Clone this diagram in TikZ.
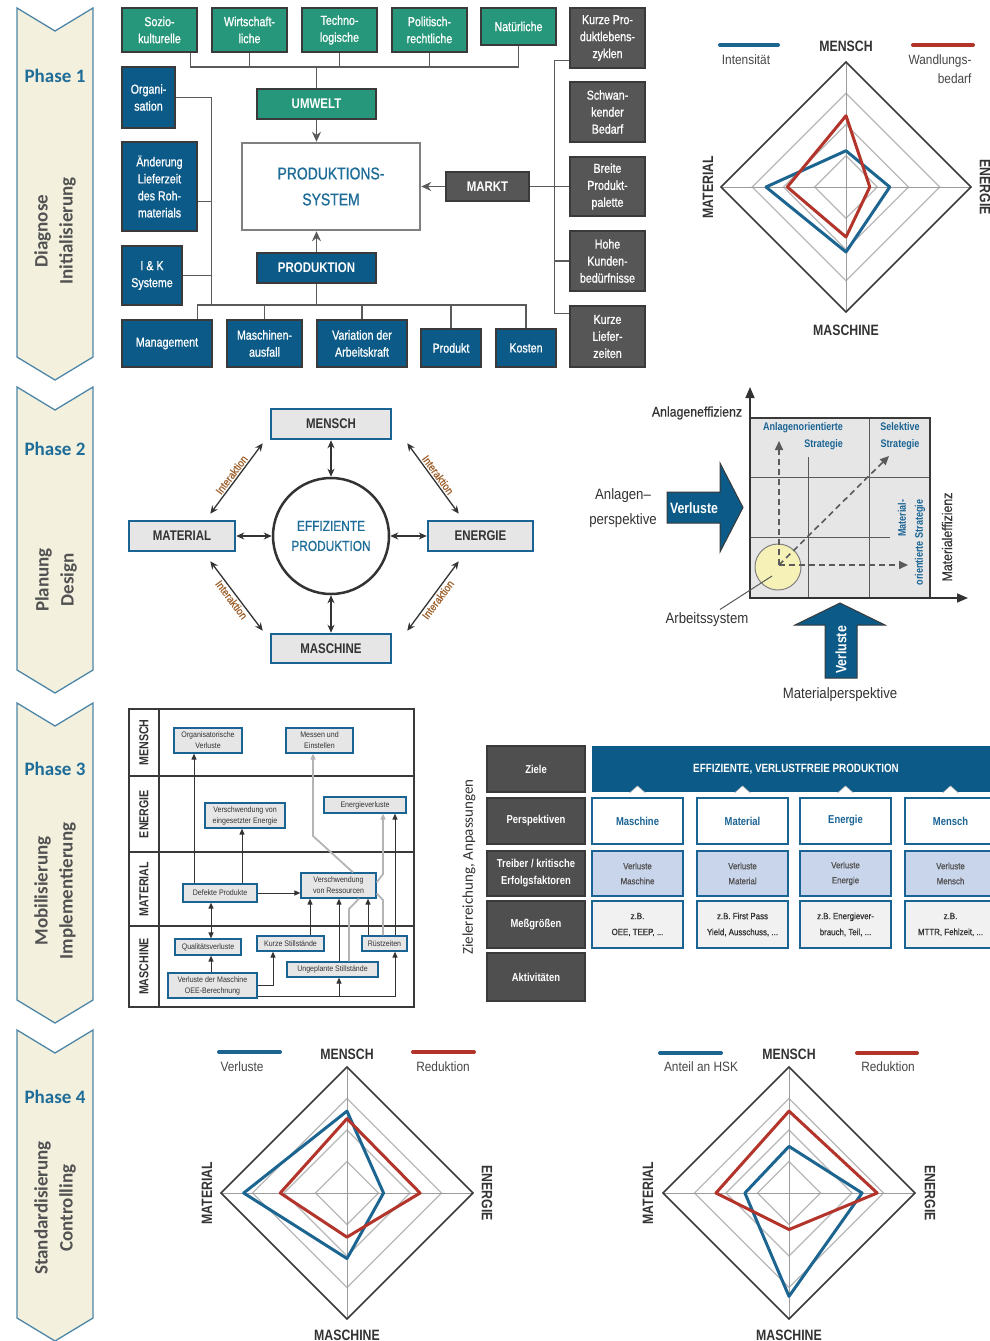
\documentclass[tikz,border=0pt]{standalone}
\usepackage{fontspec}
\setmainfont{Liberation Sans}
\newfontfamily\cond{Liberation Sans}[FakeStretch=0.82]
\newfontfamily\condm{Liberation Sans}[FakeStretch=0.82,FakeBold=0.9]
\newfontfamily\semi{Liberation Sans}[FakeStretch=0.88]
\newfontfamily\semim{Liberation Sans}[FakeStretch=0.88,FakeBold=0.7]
\newfontfamily\calib{Carlito}
\usetikzlibrary{arrows.meta,calc}

\definecolor{tealC}{HTML}{26977A}
\definecolor{blueC}{HTML}{0B5A87}
\definecolor{grayC}{HTML}{565656}
\definecolor{lineC}{HTML}{3A3A3A}
\definecolor{connC}{HTML}{5A5A5A}
\definecolor{phaseC}{HTML}{1E6C98}
\definecolor{chevF}{HTML}{F3F0DE}
\definecolor{chevD}{HTML}{4E86A8}
\definecolor{txtC}{HTML}{333333}
\definecolor{radB}{HTML}{1D6591}
\definecolor{radR}{HTML}{B3342A}
\definecolor{ringC}{HTML}{B8B8B8}
\definecolor{boxF}{HTML}{E6E6E6}
\definecolor{frameB}{HTML}{1A6494}
\definecolor{interC}{HTML}{A0622D}
\definecolor{lblF}{HTML}{4F4F4F}
\definecolor{lightB}{HTML}{C9D5EB}
\definecolor{paleF}{HTML}{F1F1F1}
\definecolor{sysY}{HTML}{F6F1B6}
\definecolor{grayL}{HTML}{B4B4B4}

\newcommand\fsz[2]{\fontsize{#1}{#2}\selectfont}
% box from corner (x1,y1) to corner (x2,y2)
\newcommand\bxnode[7]{%
  \pgfmathsetmacro\bxW{#5-#3}\pgfmathsetmacro\bxH{#6-#4}%
  \pgfmathsetmacro\bxX{(#3+#5)/2}\pgfmathsetmacro\bxY{(#4+#6)/2}%
  \node[#1,minimum width=\bxW pt,minimum height=\bxH pt] (#2) at (\bxX,\bxY) {#7};}
% phase chevron: top corner y, bottom corner y
\newcommand\chevron[2]{\filldraw[fill=chevF,draw=chevD,line width=1.3pt]
  (17,#1) -- (55,#1+23) -- (93,#1) -- (93,#2) -- (55,#2+23) -- (17,#2) -- cycle;}
% radar grid around the current origin
\def\rr{125}
\newcommand\radarGrid{%
  \foreach \f in {0.25,0.5,0.75}{\draw[ringC,line width=1.2pt] (0,-\rr*\f) -- (\rr*\f,0) -- (0,\rr*\f) -- (-\rr*\f,0) -- cycle;}
  \draw[ringC!85!black,line width=1pt] (0,-\rr) -- (0,\rr) (-\rr,0) -- (\rr,0);
  \draw[lineC,line width=1.6pt] (0,-\rr) -- (\rr,0) -- (0,\rr) -- (-\rr,0) -- cycle;}
\newcommand\radarPoly[5]{\draw[#1,line width=3pt,line join=round] (0,-\rr*#2) -- (\rr*#3,0) -- (0,\rr*#4) -- (-\rr*#5,0) -- cycle;}

\tikzset{
  boxbase/.style={draw=lineC,line width=1.5pt,inner sep=0pt,align=center,text=white,font=\condm\fsz{13}{17}},
  gbox/.style={boxbase,fill=tealC},
  bbox/.style={boxbase,fill=blueC},
  dbox/.style={boxbase,fill=grayC},
  headbox/.style={font=\cond\bfseries\fsz{14}{17}},
  sysbox/.style={draw=gray,line width=2.5pt,fill=white,inner sep=0pt,align=center,text=phaseC,font=\condm\fsz{17}{26}},
  conn/.style={draw=connC,line width=1.3pt},
  arr/.style={conn,-{Stealth[length=10pt,width=9pt]}},
  phase/.style={text=phaseC,font=\calib\bfseries\fsz{19}{22}},
  stage/.style={text=txtC!85,rotate=90,align=center,font=\calib\bfseries\fsz{19}{25}},
  ebox/.style={draw=frameB,line width=2.5pt,fill=boxF,inner sep=0pt,text=txtC,font=\cond\bfseries\fsz{14}{17}},
  darr/.style={draw=txtC,line width=1.6pt,{Stealth[length=8pt,width=7pt]}-{Stealth[length=8pt,width=7pt]}},
  inter/.style={text=interC,font=\semim\fsz{11}{12},inner sep=1.5pt},
  rlab/.style={text=txtC,font=\cond\bfseries\fsz{15}{17}},
  leg/.style={text=txtC!90,font=\semi\fsz{13.5}{19}},
  legline/.style={line width=4pt,line cap=round},
  mtxt/.style={text=txtC,align=center,font=\semi\fsz{15}{25}},
  strat/.style={text=frameB,font=\cond\bfseries\fsz{11}{17}},
  dsh/.style={draw=connC,line width=1.6pt,dashed,dash pattern=on 6pt off 4pt,-{Triangle[length=9pt,width=8pt]}},
  axis/.style={draw=txtC,line width=1.6pt,-{Triangle[length=11pt,width=9pt]}},
  vtxt/.style={text=white,font=\cond\bfseries\fsz{15}{17}},
  sbox/.style={draw=frameB,line width=1.2pt,fill=boxF,inner sep=0pt,align=center,text=txtC,font=\semi\fsz{8}{11}},
  sarr/.style={draw=txtC,line width=1pt,-{Triangle[length=6pt,width=5pt]}},
  sarr2/.style={draw=txtC,line width=1pt,{Triangle[length=6pt,width=5pt]}-{Triangle[length=6pt,width=5pt]}},
  gline/.style={draw=grayL,line width=1.8pt},
  garr/.style={gline,-{Triangle[length=6pt,width=5pt]}},
  tlab/.style={rotate=90,text=txtC,font=\cond\bfseries\fsz{13}{15}},
  lbox/.style={draw=lineC,line width=1.5pt,fill=lblF,inner sep=0pt,align=center,text=white,font=\cond\bfseries\fsz{11.5}{17}},
  banner/.style={fill=blueC,inner sep=0pt,text=white,font=\cond\bfseries\fsz{12}{14}},
  pbox/.style={draw=frameB,line width=2.5pt,fill=white,inner sep=0pt,align=center,text=frameB,font=\cond\bfseries\fsz{11.5}{14}},
  tbox/.style={draw=frameB,line width=2.5pt,fill=lightB,inner sep=0pt,align=center,text=txtC!85,font=\semim\fsz{9}{15}},
  mbox/.style={draw=frameB,line width=2.5pt,fill=paleF,inner sep=0pt,align=center,text=txtC,font=\semim\fsz{9}{16}},
}

\begin{document}
\begin{tikzpicture}[x=1pt,y=-1pt]
\useasboundingbox (0,0) rectangle (990,1341);
\fill[white] (0,0) rectangle (990,1341);

% ---------------- phase chevrons ----------------
\chevron{8}{357}
\chevron{387}{670}
\chevron{703}{1000}
\chevron{1030}{1318}
\node[phase] (ph1) at (55,76) {Phase 1};
\node[phase] (ph2) at (55,449) {Phase 2};
\node[phase] (ph3) at (55,769) {Phase 3};
\node[phase] (ph4) at (55,1097) {Phase 4};
\node[stage] (st1) at (55,231) {Diagnose\\Initialisierung};
\node[stage] (st2) at (56,580) {Planung\\Design};
\node[stage] (st3) at (55,891) {Mobilisierung\\Implementierung};
\node[stage] (st4) at (55,1208) {Standardisierung\\Controlling};

% ---------------- phase 1: system and environment ----------------
\bxnode{gbox}{soz}{122}{8}{197}{52}{Sozio-\\kulturelle}
\bxnode{gbox}{wir}{212}{8}{287}{52}{Wirtschaft-\\liche}
\bxnode{gbox}{tec}{302}{8}{377}{52}{Techno-\\logische}
\bxnode{gbox}{pol}{392}{8}{467}{52}{Politisch-\\rechtliche}
\bxnode{gbox}{nat}{481}{8}{556}{45}{Natürliche}
\bxnode{gbox,headbox}{umw}{257}{89}{376}{119}{UMWELT}

\bxnode{dbox}{kpz}{570}{8}{645}{68}{Kurze Pro-\\duktlebens-\\zyklen}
\bxnode{dbox}{sch}{570}{82}{645}{142}{Schwan-\\kender\\Bedarf}
\bxnode{dbox}{brp}{570}{157}{645}{216}{Breite\\Produkt-\\palette}
\bxnode{dbox}{hkb}{570}{231}{645}{291}{Hohe\\Kunden-\\bedürfnisse}
\bxnode{dbox}{klz}{570}{306}{645}{367}{Kurze\\Liefer-\\zeiten}
\bxnode{dbox,headbox}{markt}{446}{172}{529}{201}{MARKT}

\bxnode{bbox}{org}{122}{67}{175}{128}{Organi-\\sation}
\bxnode{bbox}{aen}{122}{142}{197}{231}{Änderung\\Lieferzeit\\des Roh-\\materials}
\bxnode{bbox}{iuk}{122}{246}{182}{305}{I \& K\\Systeme}
\bxnode{bbox}{man}{122}{320}{212}{367}{Management}
\bxnode{bbox}{mas}{227}{320}{302}{367}{Maschinen-\\ausfall}
\bxnode{bbox}{var}{317}{320}{407}{367}{Variation der\\Arbeitskraft}
\bxnode{bbox}{pro}{421}{329}{481}{367}{Produkt}
\bxnode{bbox}{kos}{496}{329}{556}{367}{Kosten}
\bxnode{bbox,headbox}{prodn}{257}{253}{376}{283}{PRODUKTION}

\bxnode{sysbox}{psys}{242}{143}{420}{230}{PRODUKTIONS-\\SYSTEM}

\coordinate (tbus) at (316.5,67);
\draw[conn] ([xshift=-7pt]soz.south east) |- (tbus);
\draw[conn] (nat.south) |- (tbus);
\draw[conn] (wir.south) -- (wir.south |- tbus);
\draw[conn] (tec.south) -- (tec.south |- tbus);
\draw[conn] (pol.south) -- (pol.south |- tbus);
\draw[conn] (tbus) -- (umw.north);
\draw[arr] (umw.south) -- (umw.south |- psys.north);
\draw[arr] (prodn.north) -- (prodn.north |- psys.south);
\draw[arr] (markt.west) -- (markt.west -| psys.east);

\coordinate (bbus) at (316.5,305);
\draw[conn] (prodn.south) -- (bbus);
\draw[conn] ([xshift=-15pt]man.north east) |- (kos.north |- bbus) -- (kos.north);
\draw[conn] (mas.north) -- (mas.north |- bbus);
\draw[conn] (var.north) -- (var.north |- bbus);
\draw[conn] (pro.north) -- (pro.north |- bbus);
\draw[conn] (org.east) -- ++(36,0) |- (bbus);
\draw[conn] ([yshift=-15pt]aen.east) -- ++(14,0);
\draw[conn] (iuk.east) -- ++(29,0);

\draw[conn] ([yshift=8pt]kpz.south west) -- ++(-15,0) |- ([yshift=-8pt]klz.north west);
\draw[conn] (markt.east) -- (brp.west);
\draw[conn] (hkb.west) -- ++(-15,0);

% ---------------- phase 1: radar ----------------
\begin{scope}[shift={(846,187)}]
  \radarGrid
  \radarPoly{radB}{0.29}{0.35}{0.52}{0.64}
  \radarPoly{radR}{0.57}{0.19}{0.40}{0.47}
\end{scope}
\node[rlab] (r1n) at (846,46) {MENSCH};
\node[rlab] (r1s) at (846,330) {MASCHINE};
\node[rlab,rotate=90] (r1w) at (708,187) {MATERIAL};
\node[rlab,rotate=-90] (r1e) at (985,187) {ENERGIE};
\draw[legline,radB] (720,45) -- (778,45);
\draw[legline,radR] (913,45) -- (973,45);
\node[leg] (r1lb) at (746,60) {Intensität};
\node[leg,align=right,anchor=north east] (r1lr) at (975,51) {Wandlungs-\\bedarf};

% ---------------- phase 2: efficient production ----------------
\bxnode{ebox}{mensch2}{271}{409}{391}{439}{MENSCH}
\bxnode{ebox}{mat2}{129}{521}{235}{551}{MATERIAL}
\bxnode{ebox}{ene2}{428}{521}{533}{551}{ENERGIE}
\bxnode{ebox}{masch2}{271}{634}{391}{663}{MASCHINE}
\node[circle,draw=txtC,line width=2.5pt,minimum size=116pt,inner sep=0pt,align=center,
      text=phaseC,font=\condm\fsz{14.5}{20}] (eff) at (331,536) {EFFIZIENTE\\PRODUKTION};
\draw[darr] (mensch2) -- (eff);
\draw[darr] (masch2) -- (eff);
\draw[darr] (mat2) -- (eff);
\draw[darr] (ene2) -- (eff);
\draw[darr,line width=1.3pt] ([shift={(-7,3)}]mensch2.south west) -- node[inter,sloped,above] (ia1) {Interaktion} ([shift={(-26,-6)}]mat2.north east);
\draw[darr,line width=1.3pt] ([shift={(15,3)}]mensch2.south east) -- node[inter,sloped,above] (ia2) {Interaktion} ([shift={(32,-6)}]ene2.north west);
\draw[darr,line width=1.3pt] ([shift={(-26,9)}]mat2.south east) -- node[inter,sloped,below] (ia3) {Interaktion} ([shift={(-7,-2)}]masch2.north west);
\draw[darr,line width=1.3pt] ([shift={(32,9)}]ene2.south west) -- node[inter,sloped,below] (ia4) {Interaktion} ([shift={(15,-2)}]masch2.north east);

% ---------------- phase 2: loss perspectives ----------------
\fill[boxF] (750,418) rectangle (930,598);
\draw[connC,line width=1pt] (750,477) -- (930,477) (869,418) -- (869,598) (808,457) -- (808,598) (750,537) -- (890,537);
\draw[lineC,line width=1.6pt] (750,418) rectangle (930,598);
\coordinate (orig) at (750,598);
\coordinate (yax) at (750,387);
\coordinate (xax) at (968,598);
\draw[axis] (orig) -- (yax);
\draw[axis] (orig) -- (xax);
\node[circle,draw=gray,line width=1pt,fill=sysY,minimum size=46pt,inner sep=0pt] (asys) at (778,567) {};
\coordinate (dst) at (779,565);
\coordinate (dup) at (779,441);
\coordinate (drt) at (908,565);
\coordinate (ddg) at (889,456);
\draw[dsh] (dst) -- (dup);
\draw[dsh] (dst) -- (drt);
\draw[dsh] (dst) -- (ddg);
\node[text=txtC,font=\semim\fsz{14}{16}] (aeff) at (697,413) {Anlageneffizienz};
\node[text=txtC,font=\semim\fsz{14}{16},rotate=90] (meff) at (947,537) {Materialeffizienz};
\node[strat,align=right] (s1) at (803,436.5) {Anlagenorientierte\\Strategie};
\node[strat,align=center] (s2) at (900,436.5) {Selektive\\Strategie};
\node[strat,align=right,rotate=90] (s3) at (911.5,542.5) {Material-\\orientierte Strategie};

\filldraw[fill=blueC,draw=lineC,line width=1pt] (667,492) -- (720,492) -- (720,463) -- (743,507.5) -- (720,552) -- (720,523) -- (667,523) -- cycle;
\node[vtxt] (v1) at (694,508) {Verluste};
\filldraw[fill=blueC,draw=lineC,line width=1pt] (825,678) -- (825,625) -- (795,625) -- (840,603) -- (885,625) -- (857,625) -- (857,678) -- cycle;
\node[vtxt,rotate=90] (v2) at (841,650) {Verluste};
\node[mtxt] (apers) at (623,508.5) {Anlagen–\\perspektive};
\node[mtxt] (asl) at (707,620) {Arbeitssystem};
\node[mtxt] (mpers) at (840,695) {Materialperspektive};
\draw[connC,line width=1pt] ([shift={(-6,9)}]asys.center) -- ([xshift=13pt]asl.north);

% ---------------- phase 3: loss interaction table ----------------
\draw[lineC,line width=2pt] (129,709) rectangle (414,1007);
\draw[lineC,line width=2pt] (159,709) -- (159,1007) (129,776) -- (414,776) (129,852) -- (414,852) (129,926) -- (414,926);
\node[tlab] (tm) at (144,742.5) {MENSCH};
\node[tlab] (te) at (144,814) {ENERGIE};
\node[tlab] (tt) at (144,889) {MATERIAL};
\node[tlab] (tq) at (144,966.5) {MASCHINE};

\bxnode{sbox}{orgv}{174}{728}{242}{753}{Organisatorische\\Verluste}
\bxnode{sbox}{mes}{286}{728}{353}{753}{Messen und\\Einstellen}
\bxnode{sbox}{vee}{205}{803}{285}{828}{Verschwendung von\\eingesetzter Energie}
\bxnode{sbox}{env}{324}{797}{406}{813}{Energieverluste}
\bxnode{sbox}{def}{183}{884}{257}{902}{Defekte Produkte}
\bxnode{sbox}{vre}{301}{873}{376}{898}{Verschwendung\\von Ressourcen}
\bxnode{sbox}{qua}{175}{939}{241}{955}{Qualitätsverluste}
\bxnode{sbox}{kst}{257}{936}{324}{951}{Kurze Stillstände}
\bxnode{sbox}{rue}{362}{936}{407}{951}{Rüstzeiten}
\bxnode{sbox}{ung}{287}{962}{378}{977}{Ungeplante Stillstände}
\bxnode{sbox}{vdm}{168}{973}{257}{998}{Verluste der Maschine\\OEE-Berechnung}

% light grey links
\coordinate (g1) at ([xshift=14.5pt]vre.north);
\coordinate (g1k) at (313,836);
\draw[garr] (g1) -- (g1k) -- (g1k |- mes.south);
\coordinate (g2) at ([yshift=3pt]vre.east);
\coordinate (g2k) at (383,874);
\draw[garr] (g2) -- (g2k) -- (g2k |- env.south);
\coordinate (g3) at ([yshift=-8pt]vre.east);
\coordinate (g3k) at (383,900);
\draw[gline] (g3) -- (g3k) -- (g3k |- rue.north);
\coordinate (g4) at ([xshift=16.5pt]ung.north);
\coordinate (g4k) at (349,909);
\draw[gline] (g4) -- (g4k) -- ([xshift=20.5pt]vre.south);

% dark links
\coordinate (a1) at ([xshift=-26pt]def.north);
\draw[sarr] (a1) -- (a1 |- orgv.south);
\coordinate (a2) at ([xshift=22pt]def.north);
\draw[sarr] (a2) -- (a2 |- vee.south);
\draw[sarr] (def.east) -- (def.east -| vre.west);
\coordinate (a3) at ([xshift=-9pt]def.south);
\draw[sarr2] (a3) -- (a3 |- qua.north);
\draw[sarr] (a3 |- vdm.north) -- (a3 |- qua.south);
\draw[sarr] (vdm.east) -| ([xshift=-17.5pt]kst.south);
\coordinate (vb) at ([yshift=2pt]vdm.south east);
\draw[sarr] (vb) -| ([xshift=10.5pt]rue.south);
\coordinate (a4) at ([xshift=6.5pt]ung.south);
\draw[sarr] (vb -| a4) -- (a4);
\coordinate (a5) at ([xshift=19.5pt]kst.north);
\draw[sarr] (a5) -- (a5 |- vre.south);
\coordinate (a6) at ([xshift=6.5pt]ung.north);
\draw[sarr] (a6) -- (a6 |- vre.south);
\coordinate (a7) at ([xshift=-16.5pt]rue.north);
\draw[sarr] (a7) -- (a7 |- vre.south);
\coordinate (a8) at ([xshift=10.5pt]rue.north);
\draw[sarr] (a8) -- (a8 |- env.south);

% ---------------- phase 3: target system ----------------
\node[rotate=90,text=txtC,font=\calib\fsz{15}{17}] (zr) at (469,867) {Zielerreichung, Anpassungen};
\bxnode{lbox}{zie}{487}{746}{585}{792}{Ziele}
\bxnode{lbox}{per}{487}{798}{585}{844}{Perspektiven}
\bxnode{lbox}{tre}{487}{851}{585}{896}{Treiber / kritische\\Erfolgsfaktoren}
\bxnode{lbox}{mgr}{487}{901}{585}{948}{Meßgrößen}
\bxnode{lbox}{akt}{487}{953}{585}{1001}{Aktivitäten}
\bxnode{banner}{ban}{592}{746}{1000}{792}{EFFIZIENTE, VERLUSTFREIE PRODUKTION}
\foreach \cx in {637.5,742.5,845.5,950.5}
  \filldraw[fill=white,draw=gray!60,line width=0.6pt] (\cx-8,793) -- (\cx,786) -- (\cx+8,793);

\bxnode{pbox}{p1}{592}{798}{683}{844}{Maschine}
\bxnode{pbox}{p2}{697}{798}{788}{844}{Material}
\bxnode{pbox}{p3}{800}{798}{891}{844}{Energie}
\bxnode{pbox}{p4}{905}{798}{996}{844}{Mensch}
\bxnode{tbox}{t1}{592}{851}{683}{896}{Verluste\\Maschine}
\bxnode{tbox}{t2}{697}{851}{788}{896}{Verluste\\Material}
\bxnode{tbox}{t3}{800}{851}{891}{896}{Verluste\\Energie}
\bxnode{tbox}{t4}{905}{851}{996}{896}{Verluste\\Mensch}
\bxnode{mbox}{m1}{592}{901}{683}{948}{z.B.\\OEE, TEEP, ...}
\bxnode{mbox}{m2}{697}{901}{788}{948}{z.B. First Pass\\Yield, Ausschuss, ...}
\bxnode{mbox}{m3}{800}{901}{891}{948}{z.B. Energiever-\\brauch, Teil, ...}
\bxnode{mbox}{m4}{905}{901}{996}{948}{z.B.\\MTTR, Fehlzeit, ...}

% ---------------- phase 4: radars ----------------
\def\rr{126}
\begin{scope}[shift={(347,1193)}]
  \radarGrid
  \radarPoly{radB}{0.65}{0.29}{0.52}{0.82}
  \radarPoly{radR}{0.59}{0.58}{0.35}{0.53}
\end{scope}
\node[rlab] (r2n) at (347,1054) {MENSCH};
\node[rlab] (r2s) at (347,1335) {MASCHINE};
\node[rlab,rotate=90] (r2w) at (207,1193) {MATERIAL};
\node[rlab,rotate=-90] (r2e) at (487,1193) {ENERGIE};
\draw[legline,radB] (219,1052) -- (280,1052);
\draw[legline,radR] (413,1052) -- (474,1052);
\node[leg] (r2lb) at (242,1067) {Verluste};
\node[leg] (r2lr) at (443,1067) {Reduktion};

\begin{scope}[shift={(789,1193)}]
  \radarGrid
  \radarPoly{radB}{0.37}{0.58}{0.82}{0.35}
  \radarPoly{radR}{0.65}{0.70}{0.29}{0.58}
\end{scope}
\node[rlab] (r3n) at (789,1054) {MENSCH};
\node[rlab] (r3s) at (789,1335) {MASCHINE};
\node[rlab,rotate=90] (r3w) at (648,1193) {MATERIAL};
\node[rlab,rotate=-90] (r3e) at (930,1193) {ENERGIE};
\draw[legline,radB] (660,1053) -- (721,1053);
\draw[legline,radR] (857,1053) -- (917,1053);
\node[leg] (r3lb) at (701,1067) {Anteil an HSK};
\node[leg] (r3lr) at (888,1067) {Reduktion};
\end{tikzpicture}
\end{document}
